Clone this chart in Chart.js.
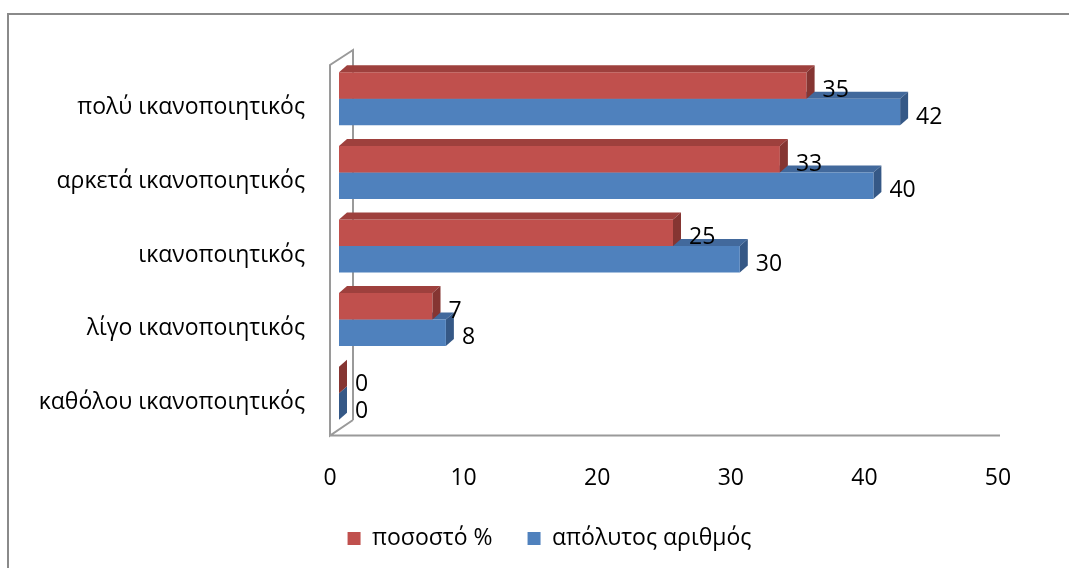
<!DOCTYPE html>
<html>
<head>
<meta charset="utf-8">
<script src="https://cdn.jsdelivr.net/npm/chart.js@4.4.0/dist/chart.umd.min.js"></script>
<style>
  html, body { margin: 0; padding: 0; background: #fff; }
  #wrap { position: relative; width: 1069px; height: 568px; }
</style>
</head>
<body>
<div id="wrap"><canvas id="chart" width="1069" height="568"></canvas></div>
<script>
// satisfaction levels, top to bottom
const categories = [
    'πολύ ικανοποιητικός',
    'αρκετά ικανοποιητικός',
    'ικανοποιητικός',
    'λίγο ικανοποιητικός',
    'καθόλου ικανοποιητικός'
];
const percentValues = [35, 33, 25, 7, 0];
const countValues = [42, 40, 30, 8, 0];
const xTicks = [0, 10, 20, 30, 40, 50];

const FONT = "'Open Sans', 'Noto Sans', sans-serif";
const DEPTH_X = 8;
const DEPTH_Y = 7;
const WALL = '#9a9a9a';

const palette = [
    { front: '#C0504D', top: '#9E403D', side: '#853532' },
    { front: '#4F81BD', top: '#42699C', side: '#355886' }
];

// top + right faces of a bar, for the fake 3D look
function drawFaces(ctx, bar, colors) {
    const p = bar.getProps(['x', 'y', 'base', 'height'], true);
    const top = p.y - p.height / 2;
    const bottom = p.y + p.height / 2;
    ctx.fillStyle = colors.top;
    ctx.beginPath();
    ctx.moveTo(p.base, top);
    ctx.lineTo(p.base + DEPTH_X, top - DEPTH_Y);
    ctx.lineTo(p.x + DEPTH_X, top - DEPTH_Y);
    ctx.lineTo(p.x, top);
    ctx.closePath();
    ctx.fill();
    ctx.fillStyle = colors.side;
    ctx.beginPath();
    ctx.moveTo(p.x, top);
    ctx.lineTo(p.x + DEPTH_X, top - DEPTH_Y);
    ctx.lineTo(p.x + DEPTH_X, bottom - DEPTH_Y);
    ctx.lineTo(p.x, bottom);
    ctx.closePath();
    ctx.fill();
}

const bars3d = {
    id: 'bars3d',
    afterLayout(chart) {
        // legend sits a bit right of the canvas centre
        chart.legend.left += 46;
        chart.legend.right += 46;
    },
    beforeDraw(chart) {
        // outer frame
        const ctx = chart.ctx;
        ctx.save();
        ctx.strokeStyle = '#8a8a8a';
        ctx.lineWidth = 2;
        ctx.beginPath();
        ctx.moveTo(8, 1069);
        ctx.lineTo(8, 14);
        ctx.lineTo(1069, 14);
        ctx.stroke();
        ctx.restore();
    },
    beforeDatasetsDraw(chart) {
        const ctx = chart.ctx;
        const a = chart.chartArea;
        const fx = a.left - 9, bx = a.left + 14;
        ctx.save();
        ctx.strokeStyle = WALL;
        ctx.lineWidth = 2;
        ctx.beginPath();
        ctx.moveTo(bx, a.bottom - 10);
        ctx.lineTo(bx, a.top - 12);
        ctx.lineTo(fx, a.top + 3);
        ctx.lineTo(fx, a.bottom + 5.5);
        ctx.lineTo(bx, a.bottom - 10);
        ctx.moveTo(fx, a.bottom + 5.5);
        ctx.lineTo(a.right - 7, a.bottom + 5.5);
        ctx.stroke();
        // faces of the back series go under the front series
        chart.getDatasetMeta(1).data.forEach(bar => drawFaces(ctx, bar, palette[1]));
        ctx.restore();
    },
    afterDatasetsDraw(chart) {
        const ctx = chart.ctx;
        ctx.save();
        chart.getDatasetMeta(0).data.forEach(bar => drawFaces(ctx, bar, palette[0]));
        ctx.fillStyle = '#000';
        ctx.font = '23px ' + FONT;
        ctx.textAlign = 'left';
        ctx.textBaseline = 'middle';
        chart.data.datasets.forEach((ds, i) => {
            chart.getDatasetMeta(i).data.forEach((bar, j) => {
                ctx.fillText(String(ds.data[j]), bar.x + 16, bar.y + 5);
            });
        });
        ctx.restore();
    }
};

Chart.defaults.font.family = FONT;
Chart.defaults.color = '#000';

new Chart(document.getElementById('chart'), {
    type: 'bar',
    data: {
        labels: categories,
        datasets: [
            {
                label: 'ποσοστό %',
                data: percentValues,
                backgroundColor: palette[0].front,
                categoryPercentage: 0.72,
                barPercentage: 1
            },
            {
                label: 'απόλυτος αριθμός',
                data: countValues,
                backgroundColor: palette[1].front,
                categoryPercentage: 0.72,
                barPercentage: 1
            }
        ]
    },
    options: {
        indexAxis: 'y',
        responsive: false,
        animation: false,
        layout: {
            padding: { left: 0, right: 62, top: 62, bottom: 8 }
        },
        plugins: {
            legend: {
                position: 'bottom',
                labels: {
                    boxWidth: 13,
                    boxHeight: 13,
                    padding: 35,
                    font: { size: 23 }
                }
            },
            tooltip: { enabled: false }
        },
        scales: {
            x: {
                min: 0,
                max: 50,
                afterBuildTicks: scale => {
                    scale.ticks = xTicks.map(v => ({ value: v }));
                },
                afterFit: scale => { scale.height = 62; },
                grid: { display: false, drawTicks: false },
                border: { display: false },
                ticks: {
                    padding: 35,
                    labelOffset: -9,
                    font: { size: 23 }
                }
            },
            y: {
                afterFit: scale => { scale.width = 339; },
                grid: { display: false, drawTicks: false },
                border: { display: false },
                ticks: {
                    padding: 34,
                    labelOffset: 9,
                    font: { size: 23 }
                }
            }
        }
    },
    plugins: [bars3d]
});
</script>
</body>
</html>
